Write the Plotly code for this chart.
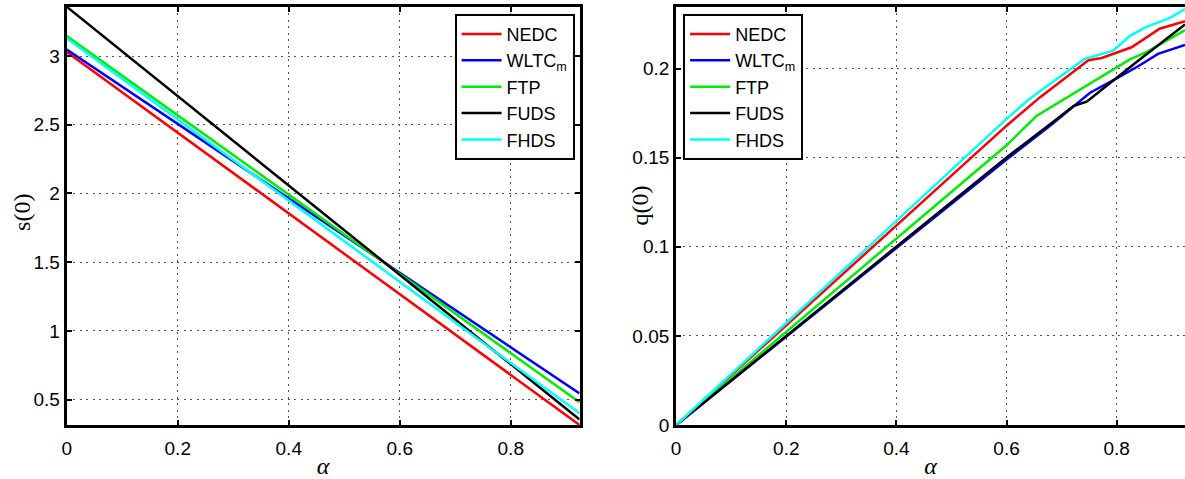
import plotly.graph_objects as go

# legend names / colours (MATLAB r, b, g, k, c)
cycles = ['NEDC', 'WLTC<sub>m</sub>', 'FTP', 'FUDS', 'FHDS']
colors = ['#ff0000', '#0000ff', '#00ee00', '#000000', '#00ffff']

# left panel: s(0) against alpha (straight lines)
alpha_s = [0.0, 0.924]
s_nedc = [3.030, 0.315]
s_wltc = [3.048, 0.545]
s_ftp = [3.145, 0.480]
s_fuds = [3.358, 0.355]
s_fhds = [3.130, 0.400]

# right panel: q(0) against alpha
a_nedc = [0.0, 0.6, 0.661, 0.7485, 0.7727, 0.80, 0.827, 0.878, 0.924]
q_nedc = [0.0, 0.168, 0.184, 0.2047, 0.206, 0.2089, 0.212, 0.2224, 0.2266]
a_wltc = [0.0, 0.6, 0.679, 0.7516, 0.80, 0.842, 0.875, 0.924]
q_wltc = [0.0, 0.149, 0.168, 0.1865, 0.1946, 0.2019, 0.2083, 0.2133]
a_ftp = [0.0, 0.6, 0.655, 0.802, 0.824, 0.854, 0.924]
q_ftp = [0.0, 0.157, 0.1736, 0.201, 0.2052, 0.2093, 0.2217]
a_fuds = [0.0, 0.6, 0.676, 0.7214, 0.7455, 0.802, 0.836, 0.924]
q_fuds = [0.0, 0.1502, 0.1681, 0.179, 0.1815, 0.1955, 0.2037, 0.2248]
a_fhds = [0.0, 0.6, 0.637, 0.661, 0.7425, 0.7937, 0.824, 0.854, 0.896, 0.924]
q_fhds = [0.0, 0.1718, 0.1818, 0.1874, 0.2056, 0.2101, 0.2184, 0.2235, 0.2284, 0.2335]

x_ticks = [0, 0.2, 0.4, 0.6, 0.8]
x_ticktext = ['0', '0.2', '0.4', '0.6', '0.8']
s_ticks = [0.5, 1, 1.5, 2, 2.5, 3]
s_ticktext = ['0.5', '1', '1.5', '2', '2.5', '3']
q_ticks = [0, 0.05, 0.1, 0.15, 0.2]
q_ticktext = ['0', '0.05', '0.1', '0.15', '0.2']

left_series = [s_nedc, s_wltc, s_ftp, s_fuds, s_fhds]
right_series = [(a_nedc, q_nedc), (a_wltc, q_wltc), (a_ftp, q_ftp),
                (a_fuds, q_fuds), (a_fhds, q_fhds)]

fig = go.Figure()

for name, col, ys in zip(cycles, colors, left_series):
    fig.add_trace(go.Scatter(x=alpha_s, y=ys, mode='lines', name=name,
                             line=dict(color=col, width=2.5),
                             xaxis='x', yaxis='y', legend='legend'))

for name, col, (xs, ys) in zip(cycles, colors, right_series):
    fig.add_trace(go.Scatter(x=xs, y=ys, mode='lines', name=name,
                             line=dict(color=col, width=2.5),
                             xaxis='x2', yaxis='y2', legend='legend2'))

W, H = 1185, 479
sans = 'Liberation Sans, Arial, sans-serif'
serif = 'Liberation Serif, Times New Roman, serif'
tick_font = dict(family=sans, size=19, color='black')
title_font = dict(family=serif, size=24, color='black')
legend_font = dict(family=sans, size=18, color='black')

axis_common = dict(
    showline=True, linecolor='black', linewidth=3,
    ticks='inside', ticklen=5, tickwidth=2, tickcolor='black',
    showgrid=True, gridcolor='#555555', gridwidth=1, griddash='2px,4.5px',
    zeroline=False, tickfont=tick_font,
)

ydom = [1 - 435 / H, 1 - 7 / H]

fig.update_layout(
    width=W, height=H,
    margin=dict(l=0, r=0, t=0, b=0),
    paper_bgcolor='white', plot_bgcolor='white',
    xaxis=dict(domain=[62 / W, 577 / W], range=[0, 0.924],
               tickvals=x_ticks, ticktext=x_ticktext, mirror='ticks',
               ticklabelstandoff=4,
               title=dict(text='<i>α</i>', font=title_font, standoff=0),
               anchor='y', **axis_common),
    yaxis=dict(domain=ydom, range=[0.315, 3.358],
               tickvals=s_ticks, ticktext=s_ticktext, mirror='ticks',
               anchor='x', **axis_common),
    xaxis2=dict(domain=[674 / W, 1.0], range=[0, 0.924],
                tickvals=x_ticks, ticktext=x_ticktext, mirror='ticks',
                ticklabelstandoff=4,
                title=dict(text='<i>α</i>', font=title_font, standoff=0),
                anchor='y2', **axis_common),
    yaxis2=dict(domain=ydom, range=[0, 0.2347],
                tickvals=q_ticks, ticktext=q_ticktext, mirror=False,
                anchor='x2', **axis_common),
    legend=dict(x=572 / W, xanchor='right', y=1 - 14 / H, yanchor='top',
                bgcolor='white', bordercolor='black', borderwidth=2,
                font=legend_font, itemwidth=40, tracegroupgap=0),
    legend2=dict(x=681 / W, xanchor='left', y=1 - 14 / H, yanchor='top',
                 bgcolor='white', bordercolor='black', borderwidth=2,
                 font=legend_font, itemwidth=40, tracegroupgap=0),
    annotations=[
        dict(text='s(0)', textangle=-90, font=title_font, showarrow=False,
             xref='paper', yref='paper', x=17 / W, y=1 - 217 / H,
             xanchor='center', yanchor='middle'),
        dict(text='q(0)', textangle=-90, font=title_font, showarrow=False,
             xref='paper', yref='paper', x=638 / W, y=1 - 210 / H,
             xanchor='center', yanchor='middle'),
    ],
)

# drop the default page margin so the figure sits at the window corner
fig.write_html("out.html", config={'displayModeBar': False},
               post_script="document.body.style.margin='0';")
